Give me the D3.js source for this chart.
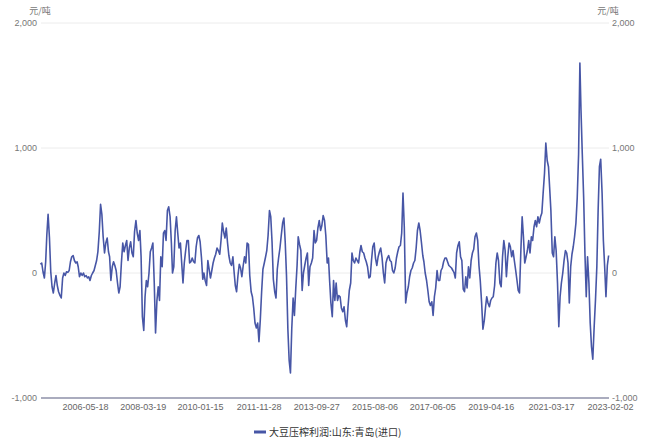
<!DOCTYPE html>
<html>
<head>
<meta charset="utf-8">
<script src="https://cdn.jsdelivr.net/npm/d3@7"></script>
<style>
  body { margin: 0; background: #fff; }
  #chart-container { width: 648px; height: 440px; }
  text { font-family: "Liberation Sans", Arial, "Noto Sans CJK SC", sans-serif; }
</style>
</head>
<body>
<div id="chart-container"></div>
<script>
// half-month readings (1st and 16th of each month), 元/吨
const y2004 = [70]; // 2004-12-16 only
const y2005 = [80, 10, -40, 90, 300, 470, 280, 10, -110, -160, -80, -20, -100, -150, -180, -200, -40, 0, -20, 10, 5, 20, 90, 130];
const y2006 = [140, 100, 80, 90, 50, -30, 0, -20, 0, -30, -20, -40, -30, -60, -20, 0, 20, 60, 100, 170, 330, 550, 470, 290];
const y2007 = [160, 240, 280, 170, 130, -60, 50, 90, 60, 20, -80, -160, -110, 80, 240, 170, 220, 260, 100, 200, 250, 160, 130, 330];
const y2008 = [420, 320, 260, 340, 130, -350, -460, -190, -60, -110, 0, 170, 200, 240, -80, -480, -220, -110, -220, 130, 50, 320, 340, 260];
const y2009 = [500, 530, 450, 240, 0, 50, 340, 450, 320, 200, 240, 80, -80, 80, 180, 260, 260, 80, 90, 120, 90, 80, 210, 280];
const y2010 = [300, 250, 120, -50, 0, -60, -100, 100, 30, -40, 20, 80, 120, 150, 200, 180, 150, 260, 400, 330, 280, 360, 240, 140];
const y2011 = [80, 60, 130, 0, -100, -150, -20, 70, 40, -30, 60, 130, 80, 240, 230, -20, -150, -190, -280, -400, -440, -400, -550, -380];
const y2012 = [-150, 30, 80, 130, 180, 300, 500, 450, 250, -50, -150, -200, 30, 120, 200, 300, 400, 440, 250, -20, -450, -700, -800, -450];
const y2013 = [-200, -340, -120, 60, 290, 230, 180, -140, 0, 60, 120, 160, -100, 50, 80, 120, 340, 240, 260, 360, 420, 340, 380, 460];
const y2014 = [420, 300, 80, 120, -60, -240, -350, -60, -220, -80, -220, -180, -190, -280, -310, -270, -380, -430, -270, -140, -80, 160, 100, 80];
const y2015 = [120, 100, 80, 170, 220, 170, 160, 120, 90, 50, -40, -30, 100, 210, 240, 120, 60, 130, 170, 200, 120, 0, -80, 80];
const y2016 = [120, 140, 100, 90, 20, 0, 40, 120, 170, 210, 220, 320, 640, 370, -240, -160, -110, -30, 20, 40, 80, 100, 200, 340];
const y2017 = [400, 340, 240, 140, 90, 0, -60, -140, -230, -260, -230, -340, -190, -120, 20, -60, -60, 20, 40, 90, 120, 120, 90, 60];
const y2018 = [50, 40, 20, 0, -40, 160, 220, 250, 130, 100, -130, -150, -30, -120, 50, -40, 100, 160, 190, 290, 320, 260, 60, -60];
const y2019 = [-240, -450, -380, -270, -190, -240, -270, -220, -200, -190, -100, 80, 160, 100, -80, -110, 130, 260, 180, -30, 130, 240, 210, 130];
const y2020 = [180, 100, 20, -60, -140, -160, 180, 450, 290, 80, 130, 180, 260, 160, 290, 260, 370, 420, 370, 450, 400, 450, 480, 640];
const y2021 = [800, 1040, 900, 850, 690, 500, 160, 130, 290, 180, -80, -430, -190, -80, 0, 100, 180, 160, 80, -240, 50, 150, 210, 290];
const y2022 = [400, 600, 950, 1680, 1300, 950, 600, 150, -190, 130, -80, -400, -590, -690, -430, -220, 50, 500, 850, 910, 640, 260, 50, -190];
const y2023 = [60, 140]; // 2023-01-01, 2023-01-16

const yearArrays = [
  [2004, y2004, 23], [2005, y2005, 0], [2006, y2006, 0], [2007, y2007, 0],
  [2008, y2008, 0], [2009, y2009, 0], [2010, y2010, 0], [2011, y2011, 0],
  [2012, y2012, 0], [2013, y2013, 0], [2014, y2014, 0], [2015, y2015, 0],
  [2016, y2016, 0], [2017, y2017, 0], [2018, y2018, 0], [2019, y2019, 0],
  [2020, y2020, 0], [2021, y2021, 0], [2022, y2022, 0], [2023, y2023, 0]
];

const xTickLabels = ["2006-05-18", "2008-03-19", "2010-01-15", "2011-11-28", "2013-09-27",
  "2015-08-06", "2017-06-05", "2019-04-16", "2021-03-17", "2023-02-02"];
const yTicks = [-1000, 0, 1000, 2000];
const unitLabel = "元/吨";
const seriesName = "大豆压榨利润:山东:青岛(进口)";

function whenDocumentLoaded(action) {
  if (document.readyState === "loading") {
    document.addEventListener("DOMContentLoaded", action);
  } else {
    action();
  }
}

whenDocumentLoaded(() => {
  const width = 648, height = 440;
  const plotLeft = 41, plotRight = 609, plotTop = 23, plotBottom = 398;
  const lineColor = "#4756a6";

  // build the dated series
  const data = [];
  yearArrays.forEach(([year, vals, startK]) => {
    vals.forEach((v, i) => {
      const k = startK + i;
      data.push({ date: new Date(year, Math.floor(k / 2), k % 2 ? 16 : 1), value: v });
    });
  });

  const parseDate = d3.timeParse("%Y-%m-%d");
  const fmt = d => d3.format(",")(d).replace("\u2212", "-");

  const x = d3.scaleTime()
    .domain([new Date(2004, 11, 12), new Date(2023, 1, 1)])
    .range([40, 610]);
  const y = d3.scaleLinear()
    .domain([-1000, 2000])
    .range([plotBottom, plotTop]);

  const svg = d3.select("#chart-container").append("svg")
    .attr("width", width)
    .attr("height", height);

  // grid lines
  svg.append("g")
    .selectAll("line")
    .data(yTicks.filter(t => t !== -1000))
    .enter().append("line")
    .attr("x1", plotLeft).attr("x2", plotRight)
    .attr("y1", d => y(d)).attr("y2", d => y(d))
    .style("stroke", "#ececec")
    .style("stroke-width", 1);

  // bottom axis line at -1,000
  svg.append("line")
    .attr("x1", plotLeft).attr("x2", plotRight)
    .attr("y1", y(-1000)).attr("y2", y(-1000))
    .style("stroke", "#8e90a8")
    .style("stroke-width", 1.6);

  // left / right axes
  const leftAxis = svg.append("g")
    .attr("transform", "translate(" + (plotLeft - 4) + ",0)")
    .call(d3.axisLeft(y).tickValues(yTicks).tickFormat(fmt).tickSize(0).tickPadding(0));
  const rightAxis = svg.append("g")
    .attr("transform", "translate(" + (plotRight + 3) + ",0)")
    .call(d3.axisRight(y).tickValues(yTicks).tickFormat(fmt).tickSize(0).tickPadding(0));
  [leftAxis, rightAxis].forEach(g => {
    g.select(".domain").remove();
    g.selectAll("text")
      .style("font-size", "9px")
      .style("fill", "#777");
  });

  // unit labels
  svg.append("text")
    .attr("x", 40).attr("y", 14)
    .attr("text-anchor", "middle")
    .style("font-size", "9px").style("fill", "#777")
    .style("font-family", "'Noto Sans CJK SC', sans-serif")
    .text(unitLabel);
  svg.append("text")
    .attr("x", 608).attr("y", 14)
    .attr("text-anchor", "middle")
    .style("font-size", "9px").style("fill", "#777")
    .style("font-family", "'Noto Sans CJK SC', sans-serif")
    .text(unitLabel);

  // bottom tick labels
  const bottomAxis = svg.append("g")
    .attr("transform", "translate(0," + (plotBottom + 6) + ")")
    .call(d3.axisBottom(x)
      .tickValues(xTickLabels.map(parseDate))
      .tickFormat(d3.timeFormat("%Y-%m-%d"))
      .tickSize(0).tickPadding(0));
  bottomAxis.select(".domain").remove();
  bottomAxis.selectAll("text")
    .style("font-size", "9px")
    .style("fill", "#666");

  // the series
  const line = d3.line()
    .x(d => x(d.date))
    .y(d => y(d.value));
  svg.append("path")
    .datum(data)
    .attr("d", line)
    .style("fill", "none")
    .style("stroke", lineColor)
    .style("stroke-width", 1.6)
    .style("stroke-linejoin", "round");

  // legend
  svg.append("line")
    .attr("x1", 254).attr("x2", 266)
    .attr("y1", 432).attr("y2", 432)
    .style("stroke", lineColor)
    .style("stroke-width", 3);
  svg.append("text")
    .attr("x", 269).attr("y", 436)
    .style("font-size", "10px").style("fill", "#333")
    .style("font-family", "'Noto Sans CJK SC', sans-serif")
    .text(seriesName);
});
</script>
</body>
</html>
